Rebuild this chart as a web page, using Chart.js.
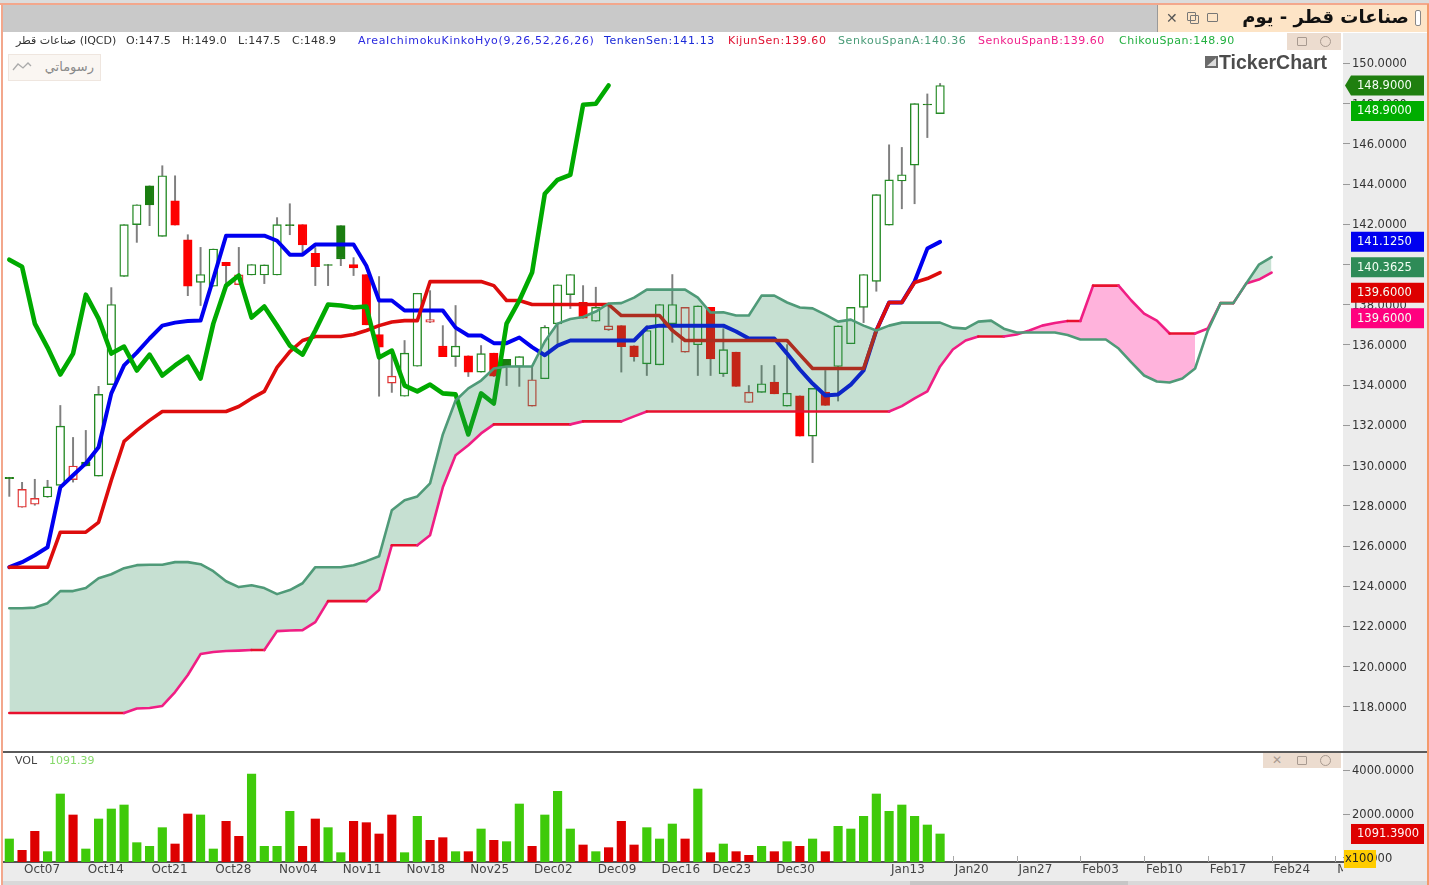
<!DOCTYPE html>
<html><head><meta charset="utf-8">
<script src="https://cdn.jsdelivr.net/npm/chart.js@4/dist/chart.umd.min.js"></script>
<style>
html,body{margin:0;padding:0;background:#fff;width:1429px;height:885px;overflow:hidden;font-family:"DejaVu Sans",sans-serif}
.a{position:absolute;white-space:nowrap}
canvas{position:absolute;left:0}
.lg{top:34px;line-height:14px;font-size:11px;z-index:5}
.btn{background:#ecdccf}
.ic{position:absolute;box-sizing:border-box;border:1.4px solid #a89a90;border-radius:1px}
</style></head><body>
<div class="a" style="left:0;top:0;width:1429px;height:5px;background:#dcdcdc"></div>
<div class="a" style="left:2px;top:5px;width:1425px;height:27px;background:#c9c9c9"></div>
<div class="a" style="left:1157px;top:5px;width:270px;height:27px;background:#fde4c6;border-left:1px solid #999;box-sizing:border-box"></div>
<div class="a" style="left:1343px;top:33px;width:84px;height:848px;background:#ececec"></div>
<div class="a" style="left:2px;top:863px;width:1425px;height:18px;background:#ececec"></div>
<div class="a" style="left:2px;top:881px;width:1425px;height:4px;background:#d9d9d9"></div>
<div class="a" style="left:910px;top:881px;width:218px;height:4px;background:#c6c6c6"></div>

<canvas id="priceCanvas" width="1429" height="752" style="top:0"></canvas>
<canvas id="volumeCanvas" width="1429" height="133" style="top:752px"></canvas>

<div class="a" style="left:2px;top:751px;width:1425px;height:2px;background:#5a5a5a;z-index:4"></div>
<div class="a" style="left:0;top:3px;width:1429px;height:2px;background:#f3a78c;z-index:6"></div>
<div class="a" style="left:1px;top:4px;width:1.5px;height:881px;background:#f3a78c;z-index:6"></div>
<div class="a" style="left:1427px;top:4px;width:2px;height:881px;background:#f49a6c;z-index:6"></div>

<div class="a" style="left:1225px;top:4px;width:184px;text-align:right;font-size:18px;line-height:26px;font-weight:bold;color:#111;direction:rtl;z-index:5">صناعات قطر - يوم</div>
<div class="a" style="left:1415px;top:10px;width:6px;height:16px;background:#fff;border:1.2px solid #888;border-radius:2px;box-sizing:border-box;z-index:5"></div>
<div class="a" style="left:1166px;top:9px;font-size:14px;line-height:18px;font-weight:bold;color:#555;z-index:5">✕</div>
<div class="ic" style="left:1190px;top:15px;width:9px;height:9px;z-index:5;border-color:#777"></div>
<div class="ic" style="left:1187px;top:12px;width:9px;height:9px;z-index:5;border-color:#777"></div>
<div class="ic" style="left:1207px;top:13px;width:11px;height:9px;z-index:5;border-color:#777"></div>

<div class="a lg" style="left:16px;color:#333;direction:ltr">صناعات قطر (IQCD)</div>
<div class="a lg" style="left:126px;color:#333;letter-spacing:.2px">O:147.5</div>
<div class="a lg" style="left:182px;color:#333;letter-spacing:.2px">H:149.0</div>
<div class="a lg" style="left:238px;color:#333;letter-spacing:.2px">L:147.5</div>
<div class="a lg" style="left:292px;color:#333;letter-spacing:.2px">C:148.9</div>
<div class="a lg" style="left:358px;color:#2a2ae0;letter-spacing:.7px">AreaIchimokuKinkoHyo(9,26,52,26,26)</div>
<div class="a lg" style="left:604px;color:#1a2ad8;letter-spacing:.6px">TenkenSen:141.13</div>
<div class="a lg" style="left:728px;color:#e01030;letter-spacing:.55px">KijunSen:139.60</div>
<div class="a lg" style="left:838px;color:#4a9c78;letter-spacing:.6px">SenkouSpanA:140.36</div>
<div class="a lg" style="left:978px;color:#f0208a;letter-spacing:.5px">SenkouSpanB:139.60</div>
<div class="a lg" style="left:1119px;color:#22b040;letter-spacing:.5px">ChikouSpan:148.90</div>

<div class="a btn" style="left:1287px;top:33px;width:54px;height:17px;z-index:5"></div>
<div class="ic" style="left:1297px;top:37px;width:10px;height:9px;z-index:6"></div>
<div class="ic" style="left:1320px;top:36px;width:11px;height:11px;border-radius:50%;z-index:6"></div>

<div class="a" style="left:8px;top:54px;width:93px;height:27px;background:#faf6f2;border:1px solid #efe6df;box-sizing:border-box;z-index:5"></div>
<div class="a" style="left:40px;top:58px;width:54px;text-align:right;font-size:13px;line-height:18px;color:#8a8a8a;direction:rtl;z-index:6">رسوماتي</div>
<svg class="a" style="left:12px;top:61px;z-index:6" width="20" height="12"><polyline points="1,9 6,3 11,7 16,2 19,5" fill="none" stroke="#aaa" stroke-width="1.3"/></svg>

<div class="a" style="left:1205px;top:56px;width:13px;height:12px;background:#6a6a6a;z-index:5"></div>
<svg class="a" style="left:1205px;top:56px;z-index:6" width="13" height="12"><polygon points="2,10 11,2 11,10" fill="#ddd"/></svg>
<div class="a" style="left:1219px;top:51px;font-family:'Liberation Sans',sans-serif;font-weight:bold;font-size:19.5px;line-height:22px;color:#4c4c4c;z-index:5">TickerChart</div>

<div class="a" style="left:15px;top:754px;font-size:11px;line-height:14px;color:#444;z-index:5">VOL</div>
<div class="a" style="left:49px;top:754px;font-size:11px;line-height:14px;color:#86d96a;z-index:5">1091.39</div>
<div class="a btn" style="left:1263px;top:753px;width:78px;height:15px;z-index:5"></div>
<div class="a" style="left:1272px;top:753px;font-size:12px;line-height:15px;font-weight:bold;color:#a89a90;z-index:6">✕</div>
<div class="ic" style="left:1297px;top:756px;width:10px;height:9px;z-index:6"></div>
<div class="ic" style="left:1320px;top:755px;width:11px;height:11px;border-radius:50%;z-index:6"></div>

<script>
const candleOpen=[129.42,127.93,128.08,128.44,129.02,129.30,130.18,129.48,134.03,139.41,141.98,143.91,141.40,143.17,141.23,139.11,138.92,140.11,139.00,139.48,139.48,139.48,141.98,141.98,140.55,140.00,141.93,140.00,139.50,136.52,134.10,133.45,134.94,137.13,135.94,135.42,135.46,134.65,135.59,135.28,134.93,132.96,134.32,137.05,138.50,138.12,137.18,136.75,136.96,135.96,135.06,135.01,137.05,135.64,136.01,137.87,134.57,135.64,133.14,133.64,134.15,132.96,133.47,131.47,133.65,134.93,136.06,137.87,139.16,141.96,144.15,144.94,147.98,147.50];
const candleHigh=[129.42,129.17,129.32,129.27,132.99,131.40,131.75,133.94,138.85,141.98,142.97,143.91,144.91,144.41,141.48,140.85,140.77,140.11,140.85,140.00,139.98,142.33,143.02,141.98,140.84,140.00,141.93,140.34,139.50,139.40,135.62,136.22,138.57,138.70,136.96,137.96,135.46,135.97,135.59,135.28,135.42,134.89,136.96,138.99,139.50,138.95,138.87,137.96,136.96,135.96,136.96,138.01,139.50,137.87,137.94,137.87,136.81,135.64,133.98,134.98,134.98,136.02,133.47,133.84,134.73,136.95,137.87,139.50,143.47,145.95,145.82,148.00,148.48,149.00];
const candleLow=[128.47,127.93,128.03,128.42,129.02,129.18,129.98,129.48,134.03,139.41,141.10,141.93,141.40,141.96,138.45,137.96,138.92,139.05,139.00,139.48,139.05,139.48,141.48,140.54,138.95,138.95,139.94,139.45,137.00,133.45,133.64,133.45,134.94,137.11,135.42,134.93,134.43,134.65,134.43,133.98,133.94,132.96,134.32,136.07,137.81,137.33,137.18,136.72,134.65,135.19,134.48,135.01,136.13,135.64,134.48,134.48,134.43,133.94,133.14,133.64,133.57,132.96,131.47,130.15,132.99,133.21,136.06,137.11,138.67,141.96,142.77,143.02,146.31,147.50];
const candleClose=[129.35,128.82,128.37,128.94,131.96,129.98,129.98,133.54,138.01,141.98,142.97,142.96,144.41,141.96,138.92,139.50,140.77,139.94,139.48,140.00,139.98,141.98,141.93,140.97,139.89,139.95,140.28,139.83,137.00,135.89,134.45,135.59,138.57,137.26,135.42,135.94,134.65,135.57,134.45,134.93,135.42,134.27,136.88,138.99,139.50,137.33,137.87,136.95,135.92,135.42,136.72,138.01,138.01,137.87,137.94,135.31,135.77,133.94,133.65,134.07,133.57,133.60,131.47,133.84,132.99,136.95,137.87,139.50,143.47,144.21,144.46,148.00,147.93,148.90];
const downDays=[1,2,5,13,14,17,18,23,24,27,28,29,30,33,34,36,38,41,45,47,48,49,53,55,57,58,60,62,64];
const volumeValues=[864,348,1212,288,2909,1955,409,1773,2227,2409,697,530,1379,636,2000,1955,409,1667,985,3818,530,530,2121,530,1773,1379,242,1667,1606,1091,1955,242,1894,803,924,288,288,1318,803,742,2454,530,1955,3030,1318,591,288,470,1667,591,1379,864,1545,864,3136,242,636,288,121,530,288,742,530,864,288,1439,1318,1894,2909,2121,2409,1894,1500,1091.39];
const tenkenSen=[124.95,125.20,125.54,125.94,128.92,129.52,130.11,130.91,133.59,134.98,135.62,136.32,136.96,137.11,137.19,137.21,139.30,141.43,141.43,141.43,141.43,141.18,140.49,140.49,140.99,140.99,140.99,140.99,139.94,138.21,138.21,137.71,137.71,137.71,137.71,136.86,136.47,136.47,136.09,136.09,136.37,135.89,135.49,135.97,136.22,136.22,136.22,136.22,136.22,136.22,136.86,136.96,136.96,136.96,136.96,136.96,136.96,136.67,136.32,136.32,136.32,135.57,134.78,134.08,133.49,133.54,134.03,134.73,136.72,138.11,138.11,139.15,140.79,141.125];
const kijunSen=[124.95,124.95,124.95,124.95,126.69,126.69,126.69,127.18,129.27,131.20,131.75,132.25,132.69,132.69,132.69,132.69,132.69,132.69,132.94,133.34,133.69,134.88,135.67,136.22,136.42,136.42,136.42,136.52,136.72,136.96,137.14,137.21,137.21,139.15,139.15,139.15,139.15,139.15,138.95,138.21,138.21,138.01,138.01,138.01,138.01,138.01,138.01,138.01,137.46,137.46,137.46,137.46,136.72,136.22,136.22,136.22,136.22,136.22,136.22,136.22,136.22,136.22,135.52,134.83,134.83,134.83,134.83,134.83,136.72,138.11,138.11,139.10,139.30,139.60];
const senkouSpanA=[122.91,122.91,122.94,123.16,123.76,123.76,123.91,124.40,124.60,124.90,125.05,125.07,125.07,125.20,125.20,125.10,124.75,124.25,123.96,124.05,123.91,123.61,123.81,124.15,124.95,124.95,124.95,125.05,125.25,125.49,127.78,128.28,128.47,129.12,131.55,133.24,133.84,134.23,134.83,134.93,134.93,134.93,136.17,137.06,137.29,137.39,137.66,138.06,138.08,138.35,138.75,138.75,138.75,138.75,138.35,137.61,137.62,137.46,137.46,138.45,138.45,138.11,137.86,137.82,137.51,137.16,137.26,136.96,136.72,136.96,137.11,137.11,137.11,137.11,136.86,136.81,137.16,137.21,136.81,136.62,136.62,136.62,136.62,136.49,136.27,136.27,136.27,135.82,135.13,134.48,134.18,134.13,134.33,134.83,136.72,138.08,138.08,139.05,139.99,140.3625];
const senkouSpanB=[117.70,117.70,117.70,117.70,117.70,117.70,117.70,117.70,117.70,117.70,117.92,117.95,118.05,118.74,119.59,120.63,120.73,120.78,120.80,120.83,120.83,121.77,121.80,121.82,122.22,123.26,123.26,123.26,123.26,123.81,126.04,126.04,126.04,126.54,128.92,130.51,131.01,131.60,132.05,132.05,132.05,132.05,132.05,132.05,132.05,132.20,132.20,132.20,132.20,132.45,132.69,132.69,132.69,132.69,132.69,132.69,132.69,132.69,132.69,132.69,132.69,132.69,132.69,132.69,132.69,132.69,132.69,132.69,132.69,132.69,132.96,133.34,133.69,134.93,135.77,136.22,136.42,136.42,136.42,136.52,136.72,136.96,137.09,137.19,137.19,138.95,138.95,138.95,138.21,137.56,137.21,136.57,136.57,136.57,136.82,138.08,138.08,139.05,139.25,139.60];
const chikouSpan=[140.24,139.89,137.06,135.87,134.53,135.57,138.50,137.31,135.57,135.92,134.73,135.52,134.48,134.98,135.42,134.33,137.06,138.95,139.45,137.36,137.91,136.96,135.97,135.52,136.72,138.01,137.96,137.86,137.91,135.38,135.72,133.98,133.69,134.03,133.59,133.54,131.55,133.59,133.09,137.06,138.21,139.60,143.52,144.21,144.46,147.94,147.99,148.90];
const priceTicks=[118,120,122,124,126,128,130,132,134,136,138,140,142,144,146,148,150];
const volumeTicks=[0,2000,4000];
const dateTickIndex=[1,6,11,16,21,26,31,36,41,46,51,55,60,69,74,79,84,89,94,99,104];
const dateTickLabels=['Oct07','Oct14','Oct21','Oct28','Nov04','Nov11','Nov18','Nov25','Dec02','Dec09','Dec16','Dec23','Dec30','Jan13','Jan20','Jan27','Feb03','Feb10','Feb17','Feb24','Mar03'];
const priceTags=[[148.9,'#1f7f0f',true],[148.9,'#00ad00',false],[141.125,'#0000f0',false],[140.3625,'#2e8b57',false],[139.6,'#dd0000',false],[139.6,'#ff007f',false]];
const CLOUD_PINK_END=93, CLOUD_GREEN_START=96;

const FONT='"DejaVu Sans"';
const X_MIN=-0.573, X_MAX=104.6;
const pts=a=>a.map((y,i)=>({x:i,y}));
const red=i=>downDays.includes(i);
const up=i=>candleClose[i]>candleOpen[i];
const bodyFill=candleOpen.map((_,i)=>up(i)?'#ffffff':(red(i)?'#fd0000':'#1a7d10'));
const bodyLine=candleOpen.map((_,i)=>up(i)?(red(i)?'#e03434':'#258a25'):(red(i)?'#fd0000':'#1a7d10'));
const line=(data,color,width,order,extra)=>Object.assign({type:'line',data:pts(data),borderColor:color,borderWidth:width,pointRadius:0,tension:0,order,fill:false,borderJoinStyle:'round',borderCapStyle:'round'},extra||{});
const cloud=(from,to)=>({type:'line',data:pts(senkouSpanA).slice(from,to),borderWidth:0,pointRadius:0,tension:0,order:1,
  fill:{target:2,above:'rgba(46,139,87,0.27)',below:'rgba(255,20,147,0.32)'}});
Chart.defaults.font.family=FONT;
const noLabelPad=s=>{s.width=86;s.paddingTop=0;s.paddingBottom=0;};

const stackTags={id:'stackTags',afterDraw(ch){
  const c=ch.ctx,s=ch.scales.y;let last=-1e9;
  c.save();c.font='11.5px '+FONT;c.textBaseline='middle';c.textAlign='left';
  for(const [v,col,arrow] of priceTags){
    let y=Math.max(s.getPixelForValue(v),last+25.5);last=y;
    c.fillStyle=col;c.beginPath();
    if(arrow){c.moveTo(1345,y);c.lineTo(1351,y-10);}else{c.moveTo(1351,y-10);}
    c.lineTo(1424,y-10);c.lineTo(1424,y+10);c.lineTo(1351,y+10);c.closePath();c.fill();
    c.fillStyle='#f4fff4';c.fillText(v.toFixed(4),1357,y+.5);
  }
  c.restore();
}};
new Chart(document.getElementById('priceCanvas'),{
  data:{datasets:[
    line(senkouSpanA,'#4f9a78',2.6,0),
    line(senkouSpanB,'#f01e84',2.6,0,{segment:{borderColor:x=>x.p0.parsed.y===x.p1.parsed.y?'#e8102e':'#f01e84'}}),
    line(senkouSpanB,'rgba(0,0,0,0)',0,7),
    cloud(0,CLOUD_PINK_END+1),
    cloud(CLOUD_GREEN_START,100),
    line(chikouSpan,'#00aa00',4.6,2),
    line(kijunSen,'#dd0c0c',3.6,3),
    line(tenkenSen,'#0000f0',4,4),
    {type:'bar',order:5,grouped:false,barThickness:8.6,borderSkipped:false,borderWidth:1.4,
      data:candleOpen.map((o,i)=>({x:i,y:[o,candleClose[i]]})),backgroundColor:bodyFill,borderColor:bodyLine},
    {type:'bar',order:6,grouped:false,barThickness:1.3,backgroundColor:'#7f7f7f',
      data:candleLow.map((l,i)=>({x:i,y:[l,candleHigh[i]]}))}
  ]},
  plugins:[stackTags],
  options:{responsive:false,animation:false,events:[],
    layout:{padding:{left:2,top:33,right:0,bottom:1}},
    plugins:{legend:{display:false},tooltip:{enabled:false}},
    scales:{
      x:{type:'linear',min:X_MIN,max:X_MAX,display:false,offset:false},
      y:{type:'linear',position:'right',min:115.81,max:151.51,
        afterFit:noLabelPad,
        afterBuildTicks:s=>{s.ticks=priceTicks.map(value=>({value}));},
        border:{display:false},
        grid:{drawOnChartArea:false,tickLength:7,tickColor:'#999',tickWidth:1},
        ticks:{padding:2,labelOffset:1,color:'#333',font:{size:11.5},autoSkip:false,callback:v=>v.toFixed(4)}}
    }}
});

const volumeMarks={id:'volumeMarks',
  beforeDatasetsDraw(ch){
    const c=ch.ctx,x=ch.scales.x,b=ch.chartArea.bottom;
    c.save();c.strokeStyle='#a8a8a8';c.lineWidth=1;
    for(const i of dateTickIndex){const p=Math.round(x.getPixelForValue(i))+.5;c.beginPath();c.moveTo(p,b);c.lineTo(p,b-6);c.stroke();}
    c.restore();
  },
  afterDraw(ch){
    const c=ch.ctx,s=ch.scales.y,t=ch.chartArea.bottom+1;
    c.save();
    c.fillStyle='#ececec';c.fillRect(1343,t,86,18);
    c.font='11.5px '+FONT;c.textBaseline='middle';c.textAlign='left';
    const v=volumeValues[volumeValues.length-1],y=s.getPixelForValue(v);
    c.fillStyle='#dd0000';c.fillRect(1351,y-10,73,20);
    c.fillStyle='#fff4f4';c.fillText(v.toFixed(4),1357,y+.5);
    const z=s.getPixelForValue(0);
    c.fillStyle='#ffcc00';c.fillRect(1344,z-8,32,18);
    c.fillStyle='#222';c.fillText('x100',1345,z+1);
    c.restore();
  }};
new Chart(document.getElementById('volumeCanvas'),{
  type:'bar',
  data:{datasets:[{data:pts(volumeValues),base:-182,barThickness:8.5,grouped:false,
    backgroundColor:volumeValues.map((_,i)=>red(i)?'#dd0000':'#3fca0a')}]},
  plugins:[volumeMarks],
  options:{responsive:false,animation:false,events:[],
    layout:{padding:{left:2,top:1,right:0,bottom:0}},
    plugins:{legend:{display:false},tooltip:{enabled:false}},
    scales:{
      x:{type:'linear',min:X_MIN,max:X_MAX,offset:false,
        afterFit:s=>{s.height=23;s.paddingLeft=0;s.paddingRight=0;},
        afterBuildTicks:s=>{s.ticks=dateTickIndex.map(value=>({value}));},
        border:{color:'#555',width:2},
        grid:{display:false,drawTicks:false,offset:false},
        ticks:{align:'start',labelOffset:2,padding:1,color:'#444',font:{size:12},autoSkip:false,maxRotation:0,minRotation:0,
          callback:v=>dateTickLabels[dateTickIndex.indexOf(v)]}},
      y:{type:'linear',position:'right',min:-182,max:4773,
        afterFit:noLabelPad,
        afterBuildTicks:s=>{s.ticks=volumeTicks.map(value=>({value}));},
        border:{display:false},
        grid:{drawOnChartArea:false,tickLength:7,tickColor:'#999',tickWidth:1},
        ticks:{padding:2,labelOffset:1,color:'#333',font:{size:11.5},autoSkip:false,callback:v=>v.toFixed(4)}}
    }}
});
</script>
</body></html>
